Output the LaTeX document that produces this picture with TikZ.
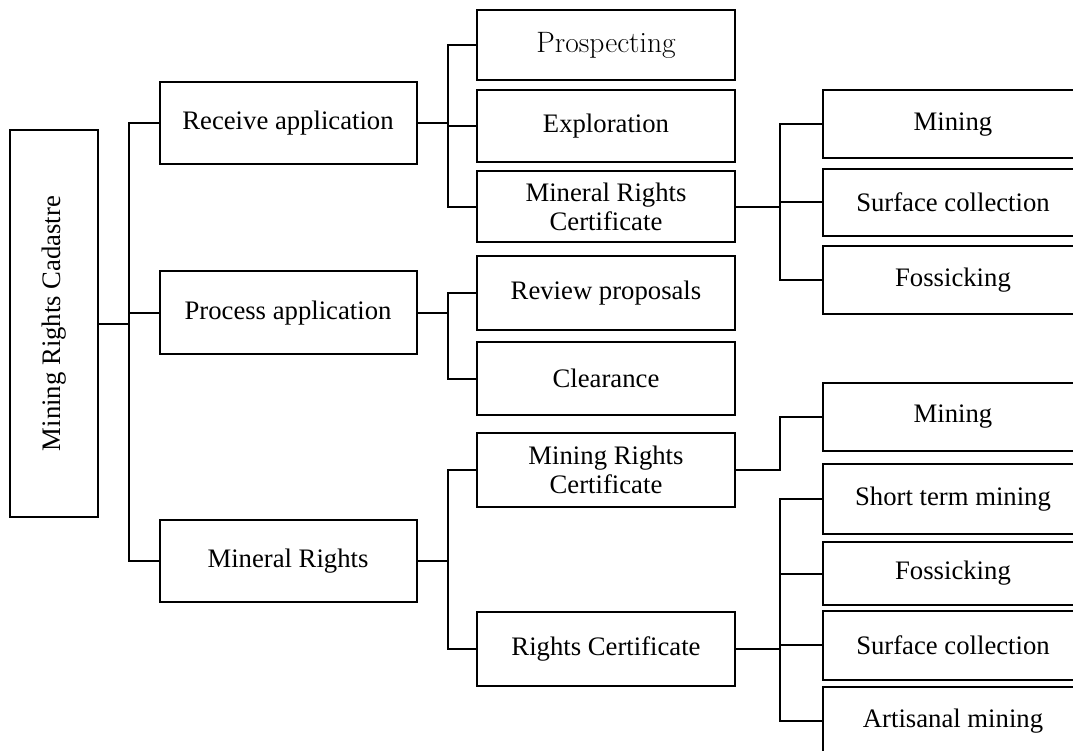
\documentclass[tikz,border=0pt]{standalone}
\usepackage{fontspec}
\usepackage{graphicx}
\newfontfamily\tnr{Liberation Serif}
\tikzset{
  box/.style={draw, line width=2pt, inner sep=0pt, align=center,
    font=\tnr\fontsize{26.7}{29}\selectfont},
  colA/.style={box, minimum width=257pt},
  colB/.style={box, minimum width=258pt},
  colC/.style={box, minimum width=260pt},
  conn/.style={draw, line width=2pt}
}
\begin{document}
\begin{tikzpicture}[x=1pt, y=-1pt]
\useasboundingbox (0,0) rectangle (1073,751);
\clip (0,0) rectangle (1073,751);
\fill[white] (0,0) rectangle (1073,751);

% root
\node[box, minimum width=87.5pt, minimum height=386pt] (root) at (53.75,323.5)
  {\rotatebox{90}{Mining Rights Cadastre}};

% first level
\node[colA, minimum height=82pt] (recv) at (288,123.5) {Receive application};
\node[colA, minimum height=82.5pt] (proc) at (288,312.75) {Process application};
\node[colA, minimum height=82pt] (minr) at (288,561) {Mineral Rights};

% second level
\node[colB, minimum height=70pt, font=\fontsize{29.5}{31}\selectfont] (prosp) at (606,45.5) {Prospecting};
\node[colB, minimum height=72pt] (explo) at (606,126.5) {Exploration};
\node[colB, minimum height=71pt] (mrc) at (606,207) {Mineral Rights\\Certificate};
\node[colB, minimum height=74pt] (rev) at (606,293) {Review proposals};
\node[colB, minimum height=73pt] (clear) at (606,378.5) {Clearance};
\node[colB, minimum height=73.5pt] (mnrc) at (606,470) {Mining Rights\\Certificate};
\node[colB, minimum height=74pt] (rc) at (606,648.5) {Rights Certificate};

% third level
\node[colC, minimum height=68pt] (mineA) at (953,124.5) {Mining};
\node[colC, minimum height=67pt] (surfA) at (953,202.5) {Surface collection};
\node[colC, minimum height=67pt] (fossA) at (953,280) {Fossicking};
\node[colC, minimum height=67.5pt] (mineB) at (953,416.75) {Mining};
\node[colC, minimum height=70pt] (stm) at (953,499) {Short term mining};
\node[colC, minimum height=63pt] (fossB) at (953,573.5) {Fossicking};
\node[colC, minimum height=69.5pt] (surfB) at (953,645.25) {Surface collection};
\node[colC, minimum height=68pt] (art) at (953,721) {Artisanal mining};

% elbow connectors: parent / child / horizontal run to the junction
\foreach \p/\c/\d in {
  root/recv/30.5, root/proc/30.5, root/minr/30.5,
  recv/prosp/30, recv/explo/30, recv/mrc/30,
  proc/rev/30, proc/clear/30,
  minr/mnrc/30, minr/rc/30,
  mrc/mineA/44, mrc/surfA/44, mrc/fossA/44,
  mnrc/mineB/44,
  rc/stm/44, rc/fossB/44, rc/surfB/44, rc/art/44}
  \draw[conn] (\p.east) -- ++(\d,0) |- (\c.west);
\end{tikzpicture}
\end{document}
